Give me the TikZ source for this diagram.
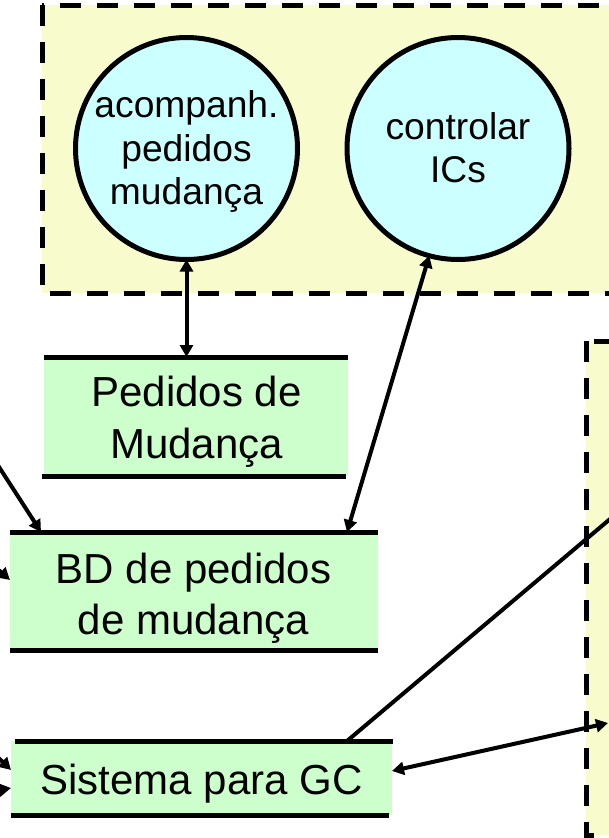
\documentclass[tikz,border=0pt]{standalone}
\usepackage{fontspec}
\setmainfont{Liberation Sans}
\usetikzlibrary{arrows.meta,calc}
\definecolor{paleyellow}{RGB}{248,252,204}
\definecolor{palecyan}{RGB}{204,255,255}
\definecolor{palegreen}{RGB}{204,255,204}
\begin{document}
\begin{tikzpicture}[x=1pt,y=-1pt,
  dashbox/.style={draw=black,fill=paleyellow,line width=5pt,dash pattern=on 21pt off 16pt},
  proc/.style={circle,draw=black,fill=palecyan,line width=5pt,minimum size=222pt,inner sep=0pt,outer sep=0pt},
  ptxt/.style={align=center,inner sep=0pt,font=\fontsize{37.2pt}{43.5pt}\selectfont},
  store/.style={rectangle,fill=palegreen,draw=none,inner sep=0pt,outer sep=0pt},
  stxt/.style={align=center,inner sep=0pt,font=\fontsize{42pt}{51.5pt}\selectfont},
  bar/.style={line width=5pt,draw=black},
  flow/.style={line width=4pt,draw=black,-{Triangle[length=12pt,width=13pt]}},
  bflow/.style={line width=4pt,draw=black,{Triangle[length=12pt,width=13pt]}-{Triangle[length=12pt,width=13pt]}},
  plain/.style={line width=4pt,draw=black}]
\useasboundingbox (0,0) rectangle (609,838);
\clip (0,0) rectangle (609,838);
\fill[white] (0,0) rectangle (609,838);
% dashed group boxes
\draw[dashbox] (42,5) rectangle (680,293);
\draw[dashbox] (586,341) rectangle (680,835);
% processes
\node[proc] (c1) at (186.5,148.5) {};
\node[proc] (c2) at (458,148.5) {};
\node[ptxt] (c1t) at (186.5,151.8) {acompanh.\\pedidos\\mudança};
\node[ptxt] (c2t) at (458,147.5) {controlar\\ICs};
% data stores
\node[store,minimum width=304pt,minimum height=119pt] (ped) at (196,416.5) {};
\node[stxt] (pedt) at (196.5,421.6) {Pedidos de\\Mudança};
\node[store,minimum width=368pt,minimum height=118pt] (bd) at (194,591) {};
\node[stxt] (bdt) at (193.5,598.1) {BD de pedidos\\de mudança};
\node[store,minimum width=381pt,minimum height=74pt] (sys) at (201.5,778) {};
\node[stxt] (syst) at (201.5,783.8) {Sistema para GC};
\draw[bar] (ped.north west) -- (ped.north east);
\draw[bar] ([xshift=-2pt]ped.south west) -- ([xshift=-2pt]ped.south east);
\draw[bar] (bd.north west) -- (bd.north east);
\draw[bar] (bd.south west) -- (bd.south east);
\draw[bar] ([xshift=4pt]sys.north west) -- ([xshift=1pt]sys.north east);
\draw[bar] (sys.south west) -- ([xshift=-3pt]sys.south east);
% free ends outside the frame
\coordinate (offA) at (-30,422);
\coordinate (offB) at (-30,545);
\coordinate (offE) at (-20,740);
\coordinate (offF) at (-30,795);
\coordinate (offC) at (680,460);
\coordinate (offD) at (608,723);
% connectors
\draw[bflow] (c1.south) -- (c1.south |- ped.north);
\draw[bflow] (c2.255) -- ([xshift=-31pt]bd.north east);
\draw[flow] (offA) -- ([xshift=31pt]bd.north west);
\draw[flow] (offB) -- ([yshift=11pt]bd.west);
\draw[flow] (offE) -- ([yshift=8pt]sys.west);
\draw[flow] (offF) -- ([yshift=-10pt]sys.west);
\draw[plain] ([xshift=-45pt]sys.north east) -- (offC);
\draw[bflow] ([yshift=7pt]sys.east) -- (offD);
\end{tikzpicture}
\end{document}
